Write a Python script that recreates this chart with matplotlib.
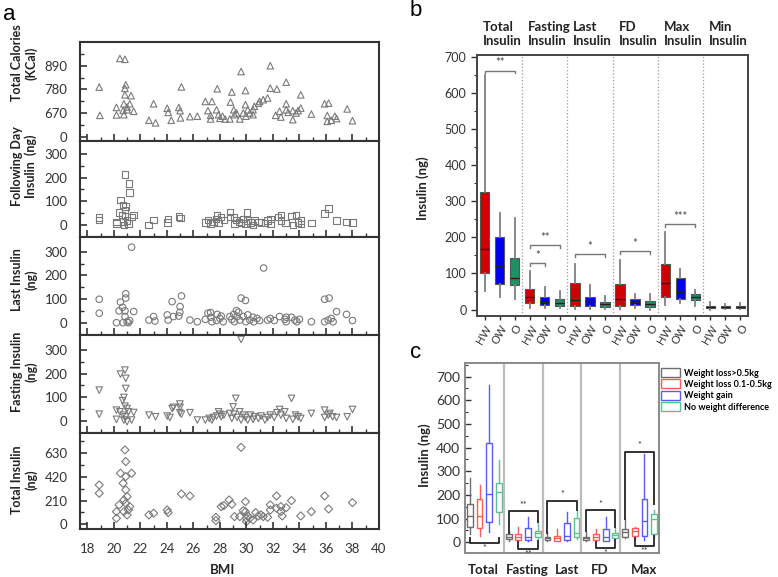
import matplotlib
matplotlib.use("Agg")
import matplotlib.pyplot as plt
from matplotlib.patches import Patch
from matplotlib.ticker import MultipleLocator, FixedLocator

plt.rcParams['font.family'] = ['Lato', 'DejaVu Sans']

# ---------- panel a data (BMI vs value) ----------
bmi_cal = [18.9, 18.95, 20.46, 20.84, 20.2, 20.2, 20.9, 20.84, 20.84, 21.3, 20.76, 21.0, 21.2, 21.0, 20.7, 20.76, 21.5,
           22.65, 23.15, 23.0, 24.03, 24.1, 24.33, 24.9, 25.0, 25.03, 25.1, 25.74, 26.3,
           26.9, 27.4, 27.1, 27.3, 27.3, 27.8, 27.75, 27.9, 28.0, 28.2, 28.4, 28.75, 28.9, 28.8, 29.05, 29.25, 29.1,
           29.5, 29.6, 29.76, 29.93, 29.93, 29.96, 30.1, 30.26, 30.5, 30.5, 30.6, 30.9, 31.0, 31.27, 31.6, 31.8, 31.8,
           32.3, 32.2, 32.5, 32.6, 33.0, 33.0, 33.0, 33.15, 33.5, 33.5, 33.75, 33.9, 34.1, 34.1, 34.9,
           35.9, 36.2, 36.1, 36.1, 36.4, 36.67, 36.8, 37.6, 38.0]
cal = [791, 659, 925, 921, 696, 661, 802, 785, 755, 751, 713, 698, 713, 685, 682, 662, 678,
       636, 624, 713, 692, 673, 636, 696, 681, 647, 792, 653, 655,
       724, 724, 681, 659, 642, 783, 685, 662, 645, 655, 642, 642, 768, 721, 685, 670, 662,
       642, 864, 670, 775, 709, 655, 685, 670, 662, 685, 701, 716, 724, 732, 740, 891, 786,
       782, 659, 678, 651, 814, 713, 685, 673, 639, 681, 670, 681, 755, 693, 665,
       713, 716, 658, 631, 636, 655, 644, 689, 634]

bmi_fd = [18.9, 18.9, 20.2, 20.2, 20.5, 20.84, 21.14, 21.2, 20.7, 20.9, 20.84, 20.4, 20.6, 20.84, 20.7, 21.0,
          20.76, 21.1, 21.34, 21.5, 22.6, 23.0, 24.03, 24.1, 24.9, 25.03,
          26.9, 27.1, 27.3, 27.5, 27.7, 27.8, 27.9, 28.1, 28.3, 28.75, 28.75, 29.05, 29.1, 29.2, 29.45, 29.6,
          29.76, 29.93, 30.06, 30.1, 30.3, 30.5, 30.6, 30.9, 31.1, 31.4, 31.6, 31.8, 31.8, 32.37, 32.6, 32.6,
          32.95, 33.4, 33.5, 33.75, 33.9, 34.1, 34.1, 34.9, 35.9, 36.2, 36.8, 37.55, 38.0]
fd_ins = [32, 22, 13, 6, 106, 214, 176, 138, 85, 78, 64, 53, 43, 39, 15, 20,
          1, 6, 34, 43, 0, 22, 11, 25, 36, 29,
          11, 22, 6, 14, 25, 43, 8, 34, 22, 55, 34, 34, 4, 22, 14, 8,
          25, 6, 53, 20, 11, 1, 20, 14, 11, 8, 20, 25, 6, 34, 43, 20,
          8, 39, 1, 43, 11, 20, 4, 8, 48, 69, 20, 14, 11]

bmi_last = [18.9, 18.9, 20.2, 20.5, 20.4, 20.66, 20.84, 20.9, 20.9, 20.84, 20.7, 21.0, 21.1, 21.2, 21.5, 21.34,
            22.65, 23.0, 23.1, 24.03, 24.1, 24.4, 24.5, 24.9, 24.98, 25.0, 25.1, 25.74, 26.3,
            26.9, 27.1, 27.3, 27.3, 27.4, 27.75, 27.8, 28.0, 28.1, 28.25, 28.75, 28.9, 29.05, 29.1, 29.25,
            29.3, 29.4, 29.5, 29.6, 29.93, 29.76, 29.96, 30.1, 30.26, 30.5, 30.56, 30.8, 31.0, 31.3, 31.6,
            31.8, 32.1, 32.5, 32.9, 33.0, 33.0, 33.4, 33.65, 33.8, 34.0,
            34.9, 35.9, 36.24, 35.9, 36.17, 36.4, 36.54, 36.8, 37.55, 38.0]
last_ins = [99, 40, 0, 87, 50, 65, 50, 122, 104, 26, 0, 4, 0, 9, 47, 319,
            11, 26, 7, 33, 11, 89, 26, 28, 44, 68, 113, 11, 4,
            14, 40, 43, 23, 4, 9, 35, 18, 28, 4, 26, 14, 35, 4, 51,
            26, 44, 11, 104, 94, 26, 4, 33, 11, 23, 4, 18, 9, 231, 11,
            18, 9, 26, 14, 23, 4, 23, 11, 4, 14,
            4, 99, 104, 4, 11, 18, 4, 47, 35, 9]

bmi_fast = [18.9, 18.9, 20.2, 20.2, 20.5, 20.84, 20.9, 20.9, 20.76, 20.66, 20.84, 21.0, 20.46, 20.7, 20.9, 21.1,
            20.76, 21.0, 21.34, 21.5, 22.65, 23.15, 24.03, 24.23, 24.4, 24.5, 24.98, 25.0, 24.98, 25.1, 25.74,
            26.3, 26.9, 27.2, 27.4, 27.5, 27.75, 27.9, 28.0, 28.1, 28.3, 28.75, 28.9, 29.0, 29.05, 29.2, 29.3,
            29.5, 29.6, 29.6, 29.76, 29.93, 30.1, 30.3, 30.5, 30.6, 30.9, 31.1, 31.4, 31.6, 31.8, 32.1, 32.3,
            32.5, 32.6, 32.9, 33.0, 33.4, 33.5, 33.7, 33.9, 34.1, 34.9, 35.9, 35.9, 36.17, 36.3, 36.5, 36.8,
            37.6, 38.0]
fast_ins = [130, 28, 6, 45, 198, 215, 180, 137, 99, 85, 62, 52, 38, 24, 17, 38,
            3, -4, 3, 35, 24, 17, 20, 14, 52, 57, 71, 57, 34, 28, 34,
            3, 3, 10, 3, 14, 20, 38, 28, 17, 24, 31, 10, 59, 28, 95, 14,
            38, 3, 345, 24, 14, 3, 24, 6, 17, 10, 20, 3, 14, 24, 14, 34,
            48, 24, 38, 10, 95, 6, 24, 17, 10, 31, 45, 14, 24, 31, 17, 14,
            17, 48]

bmi_tot = [18.9, 18.9, 20.2, 20.2, 20.4, 20.5, 20.7, 20.84, 20.9, 20.9, 20.9, 20.76, 21.0, 20.9, 20.76, 21.0,
           21.1, 21.2, 21.34, 22.65, 23.0, 24.03, 24.1, 25.1, 25.74,
           27.7, 27.7, 28.1, 28.3, 28.7, 28.9, 29.1, 29.5, 29.6, 29.76, 29.93, 29.93, 30.0, 30.0, 30.1, 30.26,
           30.5, 30.7, 30.9, 31.1, 31.27, 31.6, 31.8, 31.8, 32.27, 32.27, 32.6, 32.6, 32.7, 33.0, 33.4,
           34.1, 34.9, 35.9, 36.2, 38.0]
tot_ins = [349, 275, 112, 53, 172, 453, 364, 660, 556, 423, 305, 216, 246, 186, 112, 83,
           127, 157, 453, 83, 98, 127, 104, 269, 251,
           62, 33, 157, 166, 216, 177, 68, 68, 683, 121, 201, 112, 53, 24, 74, 53,
           38, 104, 74, 83, 68, 62, 172, 127, 251, 142, 112, 157, 74, 148, 210,
           74, 112, 251, 136, 192]

# ---------- panel b data (HW, OW, O per insulin measure) ----------
b_groups = ["Total\nInsulin", "Fasting\nInsulin", "Last\nInsulin", "FD\nInsulin", "Max\nInsulin", "Min\nInsulin"]
b_cats = ["HW", "OW", "O"]
b_med = [168, 120, 87, 34, 21, 18, 25, 23, 15, 30, 21, 15, 73, 49, 34, 7, 7, 7]
b_q1 = [101, 71, 69, 17, 12, 9, 9, 9, 6, 9, 12, 6, 34, 28, 25, 3, 3, 3]
b_q3 = [325, 200, 144, 58, 34, 28, 73, 35, 21, 72, 28, 23, 127, 87, 43, 11, 11, 11]
b_lo = [51, 35, 28, 3, 5, 3, 2, 2, 2, 2, 4, 0, 12, 17, 9, 0, 1, 1]
b_hi = [650, 267, 253, 108, 63, 51, 127, 67, 37, 138, 43, 44, 214, 112, 55, 20, 14, 17]
# (first box, last box, bracket level, stars)
b_sig = [(1, 3, 662, "**"), (4, 5, 129, "*"), (4, 6, 179, "**"), (7, 9, 154, "*"),
         (10, 12, 161, "*"), (13, 15, 236, "***")]

# ---------- panel c data (weight change groups) ----------
c_groups = ["Total", "Fasting", "Last", "FD", "Max"]
c_cats = ["Weight loss>0.5kg", "Weight loss 0.1-0.5kg", "Weight gain", "No weight difference"]
c_med = [111, 112, 203, 214, 24, 24, 24, 41, 17, 17, 28, 38, 17, 24, 24, 31, 44, 48, 90, 97]
c_q1 = [66, 59, 85, 127, 13, 10, 10, 21, 10, 7, 10, 21, 10, 10, 7, 17, 24, 27, 27, 35]
c_q3 = [162, 182, 418, 249, 34, 35, 59, 48, 24, 28, 83, 101, 24, 35, 56, 38, 55, 59, 182, 118]
c_lo = [35, 27, 42, 77, 7, 6, 6, 13, 7, 6, 6, 13, 7, 6, 6, 13, 17, 17, 10, 17]
c_hi = [273, 244, 665, 348, 48, 63, 108, 80, 45, 56, 130, 132, 45, 56, 108, 59, 97, 66, 372, 137]
# (first box, last box, level, left end, right end, stars)
c_sig_top = [(5, 8, 132, 40, 85, "**"), (9, 12, 176, 38, 138, "*"),
             (13, 16, 137, 48, 64, "*"), (17, 20, 383, 100, 160, "*")]
c_sig_bot = [(1, 4, -4, 20, 20, "*"), (6, 8, -28, 0, 5, "**"),
             (14, 16, -25, 0, 8, "*"), (18, 20, -15, 18, 26, "**")]

W, H = 778, 577
fig = plt.figure(figsize=(W / 100, H / 100), dpi=100)


def frame(l, t, r, b):
    return fig.add_axes([l / W, 1 - b / H, (r - l) / W, (b - t) / H])


def ftxt(x, y, s, **kw):
    fig.text(x / W, 1 - y / H, s, **kw)


# ---------------- panel a ----------------
grey = "#7a7a7a"
rows = [
    (bmi_cal, cal, "^", (539, 1002), [558, 670, 780, 890], ["0", "670", "780", "890"],
     [614, 725, 835, 945], "Total Calories\n(KCal)", 63),
    (bmi_fd, fd_ins, "s", (-50, 354), [0, 100, 200, 300], None, [50, 150, 250], "Following Day\nInsulin  (ng)", 166),
    (bmi_last, last_ins, "o", (-52, 362), [0, 100, 200, 300], None, [50, 150, 250], "Last Insulin\n(ng)", 280),
    (bmi_fast, fast_ins, "v", (-52, 364), [0, 100, 200, 300], None, [50, 150, 250], "Fasting Insulin\n(ng)", 372),
    (bmi_tot, tot_ins, "D", (-42, 810), [0, 210, 420, 630], None, [105, 315, 525, 735], "Total Insulin\n(ng)", 480),
]
edges = [42, 141, 237, 335, 433, 529]
for i, (xs, ys, mk, yl, yt, ytl, ymn, lab, ly) in enumerate(rows):
    ax = frame(80, edges[i], 379, edges[i + 1])
    ax.scatter(xs, ys, marker=mk, s=22 if mk != "D" else 17, facecolors="none",
               edgecolors=grey, linewidths=0.8, clip_on=True)
    ax.set_xlim(17.45, 40)
    ax.set_ylim(*yl)
    ax.set_yticks(yt)
    if ytl:
        ax.set_yticklabels(ytl)
    ax.yaxis.set_minor_locator(FixedLocator(ymn))
    ax.xaxis.set_major_locator(MultipleLocator(2))
    ax.xaxis.set_minor_locator(MultipleLocator(1))
    ax.tick_params(which="both", direction="in", top=False, right=False, colors="#333333",
                   labelsize=9.5, pad=9)
    ax.tick_params(which="major", length=5, width=1.2)
    ax.tick_params(which="minor", length=3, width=1.0)
    if i < 4:
        ax.tick_params(axis="x", labelbottom=False)
    else:
        ax.tick_params(axis="x", pad=10)
    for sp in ax.spines.values():
        sp.set_linewidth(1.5)
        sp.set_color("#333333")
    ftxt(24, ly, lab, rotation=90, ha="center", va="center", fontsize=9,
         fontweight="bold", multialignment="center", color="#222222")

ftxt(223, 570, "BMI", ha="center", va="center", fontsize=9.5, fontweight="bold", color="#222222")
ftxt(3, 14, "a", ha="left", va="center", fontsize=16, family="Liberation Sans")

# ---------------- panel b ----------------
axb = frame(477, 55, 748, 316)
b_cols = ["#D00000", "#0000F0", "#1E9063"]
stats = []
for k in range(len(b_med)):
    stats.append(dict(med=b_med[k], q1=b_q1[k], q3=b_q3[k], whislo=b_lo[k], whishi=b_hi[k], fliers=[]))
pos = list(range(1, len(b_med) + 1))
bp = axb.bxp(stats, positions=pos, widths=0.62, patch_artist=True, showfliers=False, showcaps=False,
             boxprops=dict(linewidth=0.8, edgecolor="#555555"),
             whiskerprops=dict(color="#7f7f7f", linewidth=1.3),
             medianprops=dict(color="#202020", linewidth=1.0))
for k, patch in enumerate(bp["boxes"]):
    patch.set_facecolor(b_cols[k % 3])
axb.set_xlim(0.5, 18.5)
axb.set_ylim(-18, 705)
for g in range(1, len(b_groups)):
    axb.axvline(0.5 + 3 * g, color="#9a9a9a", linestyle=":", linewidth=0.9)
axb.set_xticks(pos)
axb.set_xticklabels(b_cats * len(b_groups), rotation=60, ha="right", rotation_mode="anchor")
axb.yaxis.set_major_locator(MultipleLocator(100))
axb.yaxis.set_minor_locator(MultipleLocator(50))
axb.tick_params(which="both", direction="out", colors="#333333", labelsize=9)
axb.tick_params(which="major", length=4, width=1.0)
axb.tick_params(which="minor", length=2.5, width=0.8)
axb.tick_params(axis="x", length=3, labelsize=8, pad=2)
for sp in axb.spines.values():
    sp.set_linewidth(1.4)
    sp.set_color("#444444")
for x1, x2, yv, st in b_sig:
    axb.plot([x1, x1, x2, x2], [yv - 8, yv, yv, yv - 8], color="#777777", linewidth=1.0)
    axb.text((x1 + x2) / 2, yv + 6, st, ha="center", va="bottom", fontsize=8, color="#444444")
for g, t in enumerate(b_groups):
    axb.text(0.5 + 3 * g + 0.4, 1.03, t, transform=axb.get_xaxis_transform(), ha="left",
             va="bottom", fontsize=9.5, fontweight="bold", color="#222222", linespacing=1.25)
ftxt(423, 188, "Insulin (ng)", rotation=90, ha="center", va="center", fontsize=9.5,
     fontweight="bold", color="#222222")
ftxt(410, 11, "b", ha="left", va="center", fontsize=16, family="Liberation Sans")

# ---------------- panel c ----------------
axc = frame(465, 363, 659, 553)
c_cols = ["#6e6e6e", "#FF5A5A", "#5A5AFF", "#5CC091"]
stats = []
for k in range(len(c_med)):
    stats.append(dict(med=c_med[k], q1=c_q1[k], q3=c_q3[k], whislo=c_lo[k], whishi=c_hi[k], fliers=[]))
pos = list(range(1, len(c_med) + 1))
bp = axc.bxp(stats, positions=pos, widths=0.6, patch_artist=True, showfliers=False, showcaps=False)
for k in range(len(c_med)):
    col = c_cols[k % 4]
    bp["boxes"][k].set(facecolor="white", edgecolor=col, linewidth=1.0)
    bp["medians"][k].set(color=col, linewidth=1.0)
    for w in bp["whiskers"][2 * k:2 * k + 2]:
        w.set(color=col, linewidth=1.0)
axc.set_xlim(0.5, 20.5)
axc.set_ylim(-45, 757)
for g in range(1, len(c_groups)):
    axc.axvline(0.5 + 4 * g, color="#bdbdbd", linewidth=1.6)
axc.set_xticks([])
axc.yaxis.set_major_locator(MultipleLocator(100))
axc.yaxis.set_minor_locator(MultipleLocator(50))
axc.tick_params(which="both", direction="in", colors="#333333", labelsize=10)
axc.tick_params(which="major", length=4, width=1.0)
axc.tick_params(which="minor", length=2.5, width=0.8)
for sp in axc.spines.values():
    sp.set_linewidth(1.4)
    sp.set_color("#8a8a8a")
for x1, x2, yv, e1, e2, st in c_sig_top:
    axc.plot([x1, x1, x2, x2], [e1, yv, yv, e2], color="#333333", linewidth=1.4)
    axc.text((x1 + x2) / 2, yv + 5, st, ha="center", va="bottom", fontsize=6.5, color="#333333")
for x1, x2, yv, e1, e2, st in c_sig_bot:
    axc.plot([x1, x1, x2, x2], [e1, yv, yv, e2], color="#333333", linewidth=1.4, clip_on=False)
    axc.text((x1 + x2) / 2, yv - 4, st, ha="center", va="top", fontsize=6.5, color="#333333")
c_label_x = [2.35, 6.9, 11.0, 14.4, 18.95]
for t, xl in zip(c_groups, c_label_x):
    axc.text(xl, -0.06, t, transform=axc.get_xaxis_transform(), ha="center", va="top",
             fontsize=9.5, fontweight="bold", color="#222222")
ftxt(425, 455, "Insulin (ng)", rotation=90, ha="center", va="center", fontsize=9.5,
     fontweight="bold", color="#222222")
ftxt(410, 352, "c", ha="left", va="center", fontsize=16, family="Liberation Sans")

handles = [Patch(facecolor="white", edgecolor=c, linewidth=1.0) for c in c_cols]
fig.legend(handles, c_cats, loc="upper left", bbox_to_anchor=(661 / W, 1 - 368 / H), frameon=False,
           prop=dict(size=6.5, weight="bold"), handlelength=2.1, handleheight=1.15, labelspacing=0.2,
           handletextpad=0.5, borderaxespad=0, borderpad=0)

fig.savefig("out.png", dpi=100, facecolor="white")
